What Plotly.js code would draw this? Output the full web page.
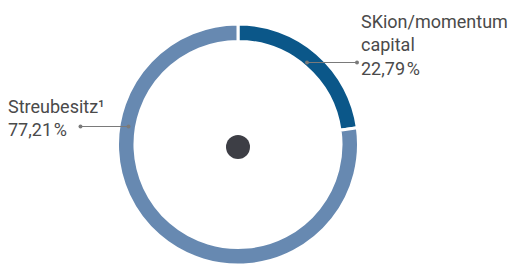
<!DOCTYPE html>
<html><head><meta charset="utf-8">
<script src="https://cdn.plot.ly/plotly-3.0.1.min.js"></script>
<style>html,body{margin:0;padding:0;background:#fff}#c{width:525px;height:265px}</style>
</head><body><div id="c"></div>
<script>
const labels = ["SKion/momentum capital", "Streubesitz¹"];
const values = [22.79, 77.21];
const colors = ["#0b5789", "#6789b1"];
const labelText = ["SKion/momentum<br>capital<br>22,79\u200A%", "Streubesitz¹<br>77,21\u200A%"];

const W = 525, H = 265;
const px = x => x / W, py = y => 1 - y / H;
const txtColor = "#4a4a4a", lineColor = "#7a7a7a";

const data = [{
  type: "pie", labels: labels, values: values, hole: 0.855, sort: false,
  direction: "clockwise", rotation: 0, textinfo: "none", hoverinfo: "none",
  marker: {colors: colors, line: {color: "#ffffff", width: 3}},
  domain: {x: [px(117), px(359)], y: [py(266), py(24)]},
  showlegend: false
}];

function leader(x0, x1, y) {
  return [
    {type: "line", xref: "paper", yref: "paper", x0: px(x0), x1: px(x1), y0: py(y), y1: py(y), line: {color: lineColor, width: 1.2}},
    {type: "circle", xref: "paper", yref: "paper", x0: px(x0 - 2), x1: px(x0 + 2), y0: py(y + 2), y1: py(y - 2), fillcolor: lineColor, line: {width: 0}},
    {type: "circle", xref: "paper", yref: "paper", x0: px(x1 - 2), x1: px(x1 + 2), y0: py(y + 2), y1: py(y - 2), fillcolor: lineColor, line: {width: 0}}
  ];
}

const shapes = [
  {type: "circle", xref: "paper", yref: "paper", x0: px(226), x1: px(250), y0: py(159), y1: py(135), fillcolor: "#3d3e45", line: {width: 0}},
  ...leader(307, 357, 62.5),
  ...leader(80.5, 128.5, 126.5)
];

const font = {family: "Roboto, 'Liberation Sans', Arial, sans-serif", size: 18, color: txtColor};
const annotations = [
  {xref: "paper", yref: "paper", x: px(359), y: py(9), xanchor: "left", yanchor: "top", align: "left", showarrow: false, text: labelText[0], font: font},
  {xref: "paper", yref: "paper", x: px(6), y: py(94), xanchor: "left", yanchor: "top", align: "left", showarrow: false, text: labelText[1], font: font}
];

const layout = {
  width: W, height: H, margin: {l: 0, r: 0, t: 0, b: 0},
  paper_bgcolor: "#ffffff", plot_bgcolor: "#ffffff",
  shapes: shapes, annotations: annotations
};
Plotly.newPlot("c", data, layout, {displayModeBar: false, staticPlot: true});
</script></body></html>
